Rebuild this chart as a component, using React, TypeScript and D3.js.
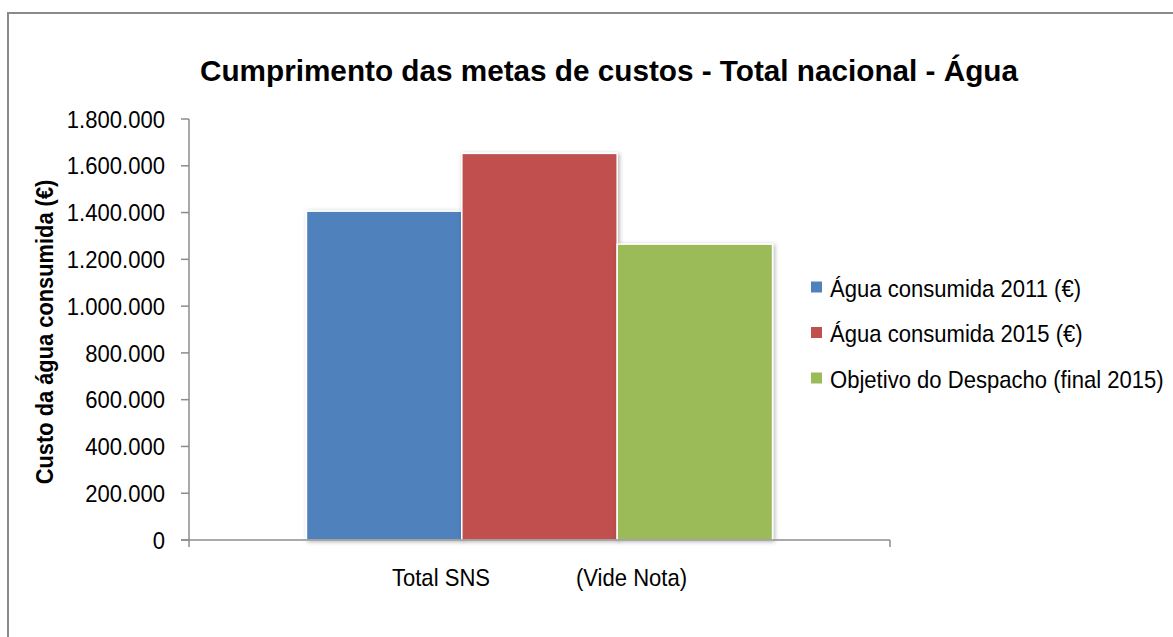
import React from "react";
import * as d3 from "d3";

const categories = ["Total SNS              (Vide Nota)"];
const seriesNames = [
  "Água consumida 2011 (€)",
  "Água consumida 2015 (€)",
  "Objetivo do Despacho (final 2015)",
];
const seriesColors = ["#4F81BD", "#C0504D", "#9BBB59"];
const values = [1406000, 1653000, 1265000];
const yTicks = [0, 200000, 400000, 600000, 800000, 1000000, 1200000, 1400000, 1600000, 1800000];

const W = 1173;
const H = 637;
const plotLeft = 189;
const plotRight = 890;
const plotTop = 119;
const plotBottom = 540;
const SX = 0.92;

const fmt = (v: number) => d3.format(",")(v).replace(/,/g, ".");

export default function App() {
  const y = d3.scaleLinear().domain([0, 1800000]).range([plotBottom, plotTop]);
  const x0 = d3
    .scaleBand<string>()
    .domain(categories)
    .range([plotLeft, plotRight])
    .paddingInner(0)
    .paddingOuter(0.252);
  const x1 = d3
    .scaleBand<string>()
    .domain(seriesNames)
    .range([0, x0.bandwidth()])
    .padding(0);
  const axisColor = "#8c8c8c";
  const font = "'Liberation Sans', Arial, sans-serif";
  return (
    <svg
      width={W}
      height={H}
      style={{ position: "absolute", left: 0, top: 0, background: "#fff" }}
    >
      <defs>
        <filter id="sh" x="-10%" y="-10%" width="130%" height="130%">
          <feDropShadow dx="1.5" dy="1" stdDeviation="2" floodColor="#000" floodOpacity="0.3" />
        </filter>
      </defs>
      <rect x={8} y={13} width={W + 20} height={H + 20} fill="#fff" stroke="#8a8a8a" strokeWidth={2} />
      <text
        x={609}
        y={81}
        textAnchor="middle"
        fontFamily={font}
        fontWeight="bold"
        fontSize={30}
        textLength={818}
        lengthAdjust="spacingAndGlyphs"
        fill="#000"
      >
        Cumprimento das metas de custos - Total nacional - Água
      </text>
      {/* bars */}
      {categories.map((c) => (
        <g key={c} transform={`translate(${x0(c)},0)`}>
          {seriesNames.map((s, i) => (
            <rect
              key={s}
              x={x1(s)}
              y={y(values[i])}
              width={x1.bandwidth()}
              height={plotBottom - y(values[i])}
              fill={seriesColors[i]}
              stroke="#fff"
              strokeWidth={1.5}
              filter="url(#sh)"
            />
          ))}
        </g>
      ))}
      {/* y axis */}
      <line x1={plotLeft} x2={plotLeft} y1={plotTop} y2={plotBottom + 7} stroke={axisColor} strokeWidth={1.5} />
      {yTicks.map((t) => (
        <g key={t}>
          <line x1={plotLeft - 8} x2={plotLeft} y1={y(t)} y2={y(t)} stroke={axisColor} strokeWidth={1.5} />
          <text
            transform={`translate(165,${y(t)}) scale(${SX},1)`}
            dy="0.36em"
            textAnchor="end"
            fontFamily={font}
            fontSize={24}
            fill="#000"
          >
            {fmt(t)}
          </text>
        </g>
      ))}
      {/* x axis */}
      <line x1={plotLeft - 8} x2={plotRight} y1={plotBottom} y2={plotBottom} stroke={axisColor} strokeWidth={1.5} />
      <line x1={plotRight} x2={plotRight} y1={plotBottom} y2={plotBottom + 7} stroke={axisColor} strokeWidth={1.5} />
      {categories.map((c) => (
        <text
          key={c}
          transform={`translate(${(x0(c) as number) + x0.bandwidth() / 2},577) scale(${SX},1)`}
          dy="0.36em"
          textAnchor="middle"
          fontFamily={font}
          fontSize={24}
          fill="#000"
          style={{ whiteSpace: "pre" }}
        >
          {c}
        </text>
      ))}
      {/* y axis title */}
      <text
        transform={`translate(45,${332}) rotate(-90) scale(0.95,1)`}
        textAnchor="middle"
        dy="0.36em"
        fontFamily={font}
        fontWeight="bold"
        fontSize={23}
        fill="#000"
      >
        Custo da água consumida (€)
      </text>
      {/* legend */}
      {seriesNames.map((s, i) => (
        <g key={s} transform={`translate(811,${287 + i * 45.5})`}>
          <rect x={0} y={-5.5} width={11} height={11} fill={seriesColors[i]} />
          <text
            transform={`translate(19,1) scale(${SX},1)`}
            dy="0.36em"
            fontFamily={font}
            fontSize={24}
            fill="#000"
          >
            {s}
          </text>
        </g>
      ))}
    </svg>
  );
}
